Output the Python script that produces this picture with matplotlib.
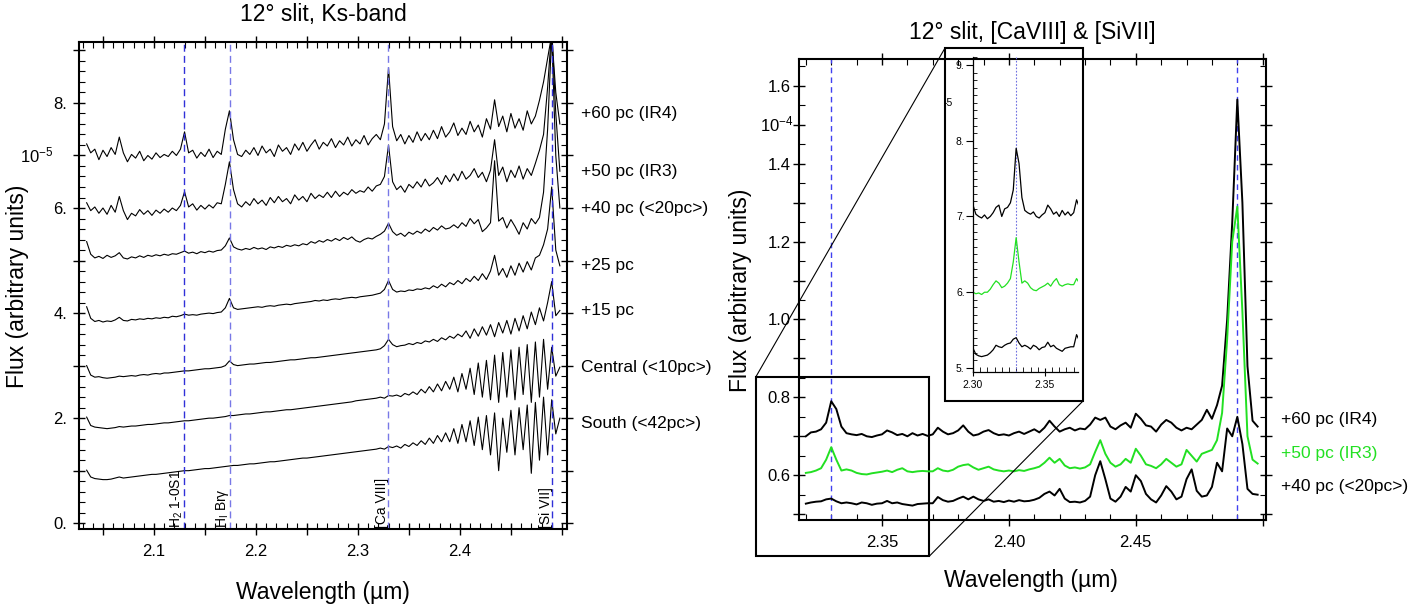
import numpy as np
import matplotlib
matplotlib.use("Agg")
import matplotlib.pyplot as plt
from matplotlib.patches import Rectangle, ConnectionPatch
from matplotlib.ticker import MultipleLocator, FuncFormatter

plt.rcParams['font.family'] = ['Liberation Sans', 'DejaVu Sans']
plt.rcParams['mathtext.fontset'] = 'custom'
plt.rcParams['mathtext.rm'] = 'Liberation Sans'
plt.rcParams['mathtext.it'] = 'Liberation Sans:italic'
plt.rcParams['mathtext.bf'] = 'Liberation Sans:bold'

# ---- left panel: 12 deg slit, Ks band (flux in 1e-5, offset spectra) ----
wave_ks = np.round(np.arange(2.034, 2.4981, 0.004), 3)

flux_ir4 = [7.22, 7.05, 7.12, 6.92, 7.10, 6.98, 7.15, 7.02, 7.35, 7.05,
            6.88, 7.02, 6.95, 7.08, 6.90, 7.00, 6.93, 7.05, 6.96, 7.02,
            6.98, 7.08, 7.00, 7.12, 7.45, 7.05, 7.10, 6.95, 7.06, 6.98,
            7.12, 6.96, 7.08, 7.02, 7.50, 7.85, 7.30, 7.02, 6.98, 7.10,
            7.02, 7.15, 7.00, 7.18, 7.05, 7.12, 6.98, 7.20, 7.08, 7.15,
            7.02, 7.22, 7.10, 7.25, 7.08, 7.20, 7.30, 7.12, 7.25, 7.18,
            7.32, 7.15, 7.28, 7.20, 7.35, 7.18, 7.30, 7.22, 7.38, 7.20,
            7.32, 7.40, 7.30, 7.60, 8.67, 7.55, 7.28, 7.40, 7.22, 7.38,
            7.25, 7.45, 7.28, 7.42, 7.30, 7.48, 7.32, 7.55, 7.35, 7.45,
            7.62, 7.38, 7.52, 7.40, 7.65, 7.45, 7.58, 7.35, 7.70, 7.50,
            8.06, 7.55, 7.75, 7.45, 7.80, 7.52, 7.70, 7.48, 7.85, 7.60,
            7.75, 8.05, 8.40, 8.85, 9.30, 8.20, 7.60]
flux_ir3 = [6.10, 5.95, 6.02, 5.90, 6.00, 5.88, 6.05, 5.92, 6.22, 5.95,
            5.78, 5.90, 5.85, 5.97, 5.88, 5.95, 5.86, 5.96, 5.90, 5.98,
            5.92, 6.00, 5.95, 6.05, 6.31, 6.02, 6.08, 5.96, 6.05, 5.98,
            6.06, 6.00, 6.10, 6.08, 6.45, 6.88, 6.35, 6.08, 6.02, 6.12,
            6.05, 6.18, 6.08, 6.15, 6.05, 6.20, 6.10, 6.22, 6.12, 6.18,
            6.08, 6.25, 6.15, 6.22, 6.12, 6.28, 6.18, 6.25, 6.20, 6.30,
            6.20, 6.32, 6.22, 6.30, 6.25, 6.35, 6.28, 6.33, 6.30, 6.40,
            6.32, 6.42, 6.45, 6.60, 7.20, 6.50, 6.35, 6.42, 6.30, 6.45,
            6.38, 6.50, 6.40, 6.55, 6.42, 6.48, 6.58, 6.45, 6.62, 6.50,
            6.65, 6.52, 6.70, 6.55, 6.62, 6.75, 6.58, 6.68, 6.50, 6.72,
            7.30, 6.62, 6.78, 6.50, 6.72, 6.58, 6.80, 6.55, 6.75, 6.62,
            6.85, 7.10, 7.40, 8.30, 9.40, 7.80, 6.70]
flux_40 = [5.36, 5.12, 5.05, 5.08, 5.04, 5.10, 5.06, 5.09, 5.15, 5.05,
           5.03, 5.07, 5.05, 5.09, 5.06, 5.10, 5.08, 5.11, 5.09, 5.12,
           5.10, 5.13, 5.12, 5.15, 5.18, 5.14, 5.16, 5.13, 5.17, 5.15,
           5.18, 5.16, 5.19, 5.20, 5.28, 5.43, 5.26, 5.22, 5.20, 5.23,
           5.21, 5.25, 5.22, 5.24, 5.21, 5.26, 5.24, 5.27, 5.25, 5.29,
           5.27, 5.30, 5.28, 5.32, 5.30, 5.36, 5.33, 5.38, 5.35, 5.40,
           5.37, 5.42, 5.38, 5.44, 5.40, 5.45, 5.38, 5.35, 5.40, 5.43,
           5.41, 5.46, 5.50, 5.56, 5.71, 5.55, 5.48, 5.52, 5.46, 5.54,
           5.50, 5.56, 5.52, 5.60, 5.55, 5.63, 5.58, 5.66, 5.60, 5.62,
           5.68, 5.62, 5.72, 5.65, 5.80, 5.70, 5.78, 5.55, 5.62, 5.72,
           6.90, 5.75, 5.82, 5.62, 5.78, 5.65, 5.50, 5.72, 5.60, 5.80,
           5.70, 5.82, 6.30, 7.50, 9.30, 7.00, 6.00]
flux_25 = [4.12, 3.90, 3.84, 3.86, 3.83, 3.85, 3.84, 3.87, 3.92, 3.86,
           3.85, 3.88, 3.87, 3.89, 3.88, 3.90, 3.89, 3.91, 3.90, 3.92,
           3.91, 3.94, 3.93, 3.95, 3.98, 3.96, 3.97, 3.96, 3.98, 3.99,
           4.00, 3.99, 4.01, 4.02, 4.10, 4.28, 4.10, 4.07, 4.08, 4.09,
           4.10, 4.11, 4.12, 4.11, 4.13, 4.14, 4.13, 4.15, 4.16, 4.17,
           4.16, 4.18, 4.19, 4.20, 4.21, 4.22, 4.24, 4.23, 4.25, 4.24,
           4.26, 4.27, 4.26, 4.28, 4.29, 4.30, 4.29, 4.31, 4.32, 4.33,
           4.34, 4.36, 4.38, 4.45, 4.62, 4.45, 4.40, 4.42, 4.41, 4.44,
           4.43, 4.46, 4.45, 4.48, 4.46, 4.52, 4.48, 4.55, 4.50, 4.58,
           4.54, 4.62, 4.56, 4.66, 4.60, 4.70, 4.62, 4.75, 4.64, 4.80,
           5.10, 4.72, 4.85, 4.68, 4.90, 4.72, 4.95, 4.78, 4.98, 4.82,
           5.05, 5.10, 5.30, 5.60, 6.40, 5.20, 4.90]
flux_15 = [3.00, 2.82, 2.78, 2.79, 2.77, 2.76, 2.77, 2.78, 2.80, 2.79,
           2.80, 2.81, 2.80, 2.82, 2.83, 2.82, 2.84, 2.85, 2.84, 2.86,
           2.86, 2.87, 2.88, 2.89, 2.90, 2.90, 2.91, 2.92, 2.93, 2.94,
           2.94, 2.95, 2.96, 2.97, 3.00, 3.09, 3.02, 3.00, 3.01, 3.02,
           3.03, 3.03, 3.04, 3.05, 3.06, 3.06, 3.07, 3.08, 3.09, 3.10,
           3.11, 3.11, 3.12, 3.13, 3.14, 3.15, 3.15, 3.16, 3.17, 3.18,
           3.19, 3.20, 3.21, 3.22, 3.23, 3.24, 3.25, 3.26, 3.27, 3.28,
           3.29, 3.30, 3.32, 3.38, 3.50, 3.40, 3.36, 3.38, 3.39, 3.42,
           3.40, 3.44, 3.42, 3.47, 3.45, 3.50, 3.46, 3.53, 3.49, 3.56,
           3.52, 3.60, 3.55, 3.66, 3.52, 3.70, 3.56, 3.74, 3.58, 3.78,
           3.55, 3.82, 3.62, 3.86, 3.60, 3.90, 3.66, 3.95, 3.70, 4.02,
           3.78, 4.10, 3.85, 4.20, 4.60, 3.95, 4.05]
flux_central = [2.02, 1.86, 1.83, 1.82, 1.81, 1.80, 1.81, 1.82, 1.84, 1.83,
                1.84, 1.85, 1.85, 1.86, 1.87, 1.88, 1.88, 1.89, 1.90, 1.91,
                1.91, 1.92, 1.93, 1.94, 1.95, 1.95, 1.96, 1.97, 1.98, 1.99,
                2.00, 2.00, 2.01, 2.02, 2.03, 2.05, 2.05, 2.06, 2.07, 2.08,
                2.08, 2.09, 2.10, 2.11, 2.12, 2.12, 2.13, 2.14, 2.15, 2.16,
                2.16, 2.17, 2.18, 2.19, 2.20, 2.21, 2.22, 2.23, 2.24, 2.25,
                2.26, 2.27, 2.28, 2.29, 2.30, 2.31, 2.33, 2.34, 2.35, 2.36,
                2.37, 2.38, 2.40, 2.38, 2.43, 2.42, 2.44, 2.41, 2.47, 2.44,
                2.50, 2.45, 2.55, 2.48, 2.60, 2.50, 2.65, 2.52, 2.70, 2.55,
                2.78, 2.50, 2.85, 2.55, 2.95, 2.45, 3.05, 2.40, 3.10, 2.35,
                3.20, 2.30, 3.25, 2.40, 3.30, 2.35, 3.35, 2.45, 3.40, 2.30,
                3.45, 2.40, 3.50, 2.55, 3.35, 2.80, 2.97]
flux_south = [1.01, 0.88, 0.85, 0.84, 0.83, 0.83, 0.84, 0.86, 0.88, 0.86,
              0.87, 0.88, 0.89, 0.90, 0.91, 0.92, 0.93, 0.93, 0.94, 0.95,
              0.96, 0.97, 0.98, 0.99, 1.00, 1.00, 1.01, 1.02, 1.03, 1.04,
              1.04, 1.05, 1.06, 1.07, 1.08, 1.09, 1.10, 1.10, 1.11, 1.12,
              1.13, 1.13, 1.14, 1.15, 1.16, 1.17, 1.17, 1.18, 1.19, 1.20,
              1.21, 1.22, 1.23, 1.24, 1.24, 1.25, 1.26, 1.27, 1.28, 1.29,
              1.30, 1.31, 1.32, 1.33, 1.34, 1.35, 1.36, 1.37, 1.38, 1.39,
              1.40, 1.41, 1.43, 1.41, 1.46, 1.44, 1.47, 1.43, 1.50, 1.46,
              1.53, 1.48, 1.57, 1.50, 1.62, 1.52, 1.67, 1.55, 1.72, 1.55,
              1.80, 1.52, 1.88, 1.55, 1.95, 1.48, 2.02, 1.40, 2.05, 1.30,
              2.10, 1.00, 2.00, 1.35, 2.15, 1.30, 2.20, 1.40, 2.25, 0.95,
              2.30, 1.20, 2.40, 1.30, 2.35, 1.70, 2.00]

ks_labels = ["+60 pc (IR4)", "+50 pc (IR3)", "+40 pc (<20pc>)", "+25 pc",
             "+15 pc", "Central (<10pc>)", "South (<42pc>)"]
ks_label_y = [7.8, 6.7, 6.0, 4.9, 4.05, 2.97, 1.9]

line_waves = [2.1297, 2.1745, 2.3295, 2.4900]
line_names = [r"H$_2$ 1-0S1", r"H$_{\rm I}$ Brγ", "[Ca VIII]", "[Si VII]"]
line_colors = ["#3030d8", "#7878e6", "#7878e6", "#3030d8"]

# ---- right panel: [CaVIII] & [SiVII] (flux in 1e-4) ----
wave_z = np.round(np.arange(2.300, 2.4981, 0.002), 3)

zflux_ir4 = [0.715, 0.703, 0.700, 0.698, 0.702, 0.697, 0.700, 0.705, 0.712, 0.715,
             0.700, 0.710, 0.712, 0.718, 0.735, 0.790, 0.770, 0.725, 0.708, 0.705,
             0.703, 0.706, 0.700, 0.698, 0.702, 0.705, 0.715, 0.710, 0.703, 0.706,
             0.700, 0.708, 0.702, 0.706, 0.701, 0.705, 0.722, 0.712, 0.705, 0.708,
             0.715, 0.728, 0.712, 0.702, 0.705, 0.712, 0.716, 0.708, 0.703, 0.705,
             0.702, 0.708, 0.712, 0.706, 0.712, 0.718, 0.710, 0.722, 0.740, 0.725,
             0.712, 0.718, 0.722, 0.715, 0.720, 0.718, 0.730, 0.748, 0.742, 0.748,
             0.725, 0.718, 0.728, 0.735, 0.722, 0.758, 0.745, 0.728, 0.725, 0.712,
             0.730, 0.742, 0.735, 0.722, 0.715, 0.722, 0.718, 0.730, 0.742, 0.768,
             0.745, 0.780, 0.830, 1.000, 1.250, 1.565, 1.300, 0.880, 0.740, 0.725]
zflux_ir3 = [0.600, 0.598, 0.599, 0.597, 0.600, 0.600, 0.604, 0.610, 0.615, 0.612,
             0.606, 0.608, 0.612, 0.618, 0.640, 0.672, 0.640, 0.612, 0.615, 0.612,
             0.606, 0.603, 0.602, 0.605, 0.607, 0.609, 0.612, 0.608, 0.614, 0.618,
             0.610, 0.608, 0.610, 0.611, 0.610, 0.610, 0.618, 0.612, 0.610, 0.614,
             0.622, 0.626, 0.628, 0.620, 0.614, 0.618, 0.622, 0.615, 0.612, 0.610,
             0.612, 0.610, 0.613, 0.611, 0.615, 0.618, 0.622, 0.632, 0.645, 0.632,
             0.642, 0.625, 0.618, 0.620, 0.617, 0.620, 0.628, 0.660, 0.690, 0.655,
             0.632, 0.622, 0.628, 0.642, 0.632, 0.668, 0.650, 0.628, 0.624, 0.618,
             0.628, 0.642, 0.632, 0.622, 0.628, 0.665, 0.650, 0.635, 0.655, 0.660,
             0.665, 0.690, 0.760, 0.950, 1.200, 1.290, 1.020, 0.700, 0.640, 0.630]
zflux_40 = [0.526, 0.518, 0.516, 0.515, 0.516, 0.517, 0.520, 0.524, 0.530, 0.528,
            0.527, 0.530, 0.532, 0.533, 0.538, 0.540, 0.533, 0.528, 0.530, 0.528,
            0.525, 0.530, 0.528, 0.524, 0.527, 0.528, 0.534, 0.528, 0.530, 0.526,
            0.524, 0.522, 0.526, 0.527, 0.528, 0.528, 0.544, 0.536, 0.532, 0.534,
            0.540, 0.545, 0.538, 0.545, 0.538, 0.534, 0.538, 0.532, 0.534, 0.531,
            0.535, 0.532, 0.536, 0.533, 0.534, 0.537, 0.542, 0.552, 0.558, 0.548,
            0.565, 0.540, 0.531, 0.532, 0.530, 0.534, 0.545, 0.600, 0.636, 0.590,
            0.540, 0.532, 0.545, 0.570, 0.558, 0.600, 0.585, 0.552, 0.538, 0.530,
            0.548, 0.572, 0.558, 0.538, 0.545, 0.590, 0.615, 0.560, 0.545, 0.548,
            0.570, 0.632, 0.610, 0.720, 0.700, 0.750, 0.680, 0.565, 0.552, 0.550]

z_labels = ["+60 pc (IR4)", "+50 pc (IR3)", "+40 pc (<20pc>)"]
z_label_y = [0.742, 0.657, 0.572]
z_colors = ["black", "#22e022", "black"]
z_lines = [2.330, 2.490]

W, H = 1416.0, 612.0

fig = plt.figure(figsize=(14.16, 6.12), dpi=100)


def add_axes_px(left, right, top, bottom):
    return fig.add_axes([left / W, 1 - bottom / H, (right - left) / W, (bottom - top) / H])


def fig_xy(x, y):
    return (x / W, 1 - y / H)


def idl_ticks(ax, xmaj, xmin, ymaj, ymin, xpad=6, ypad=4):
    ax.xaxis.set_major_locator(MultipleLocator(xmaj))
    ax.xaxis.set_minor_locator(MultipleLocator(xmin))
    ax.yaxis.set_major_locator(MultipleLocator(ymaj))
    ax.yaxis.set_minor_locator(MultipleLocator(ymin))
    ax.tick_params(which='major', direction='inout', length=9, width=1.0,
                   top=True, right=True, labelsize=12)
    ax.tick_params(which='minor', direction='in', length=4.5, width=0.8,
                   top=True, right=True)
    ax.tick_params(axis='x', pad=xpad)
    ax.tick_params(axis='y', pad=ypad)
    for s in ax.spines.values():
        s.set_linewidth(1.5)


# ---------------- left panel ----------------
ax1 = add_axes_px(79, 567, 42, 529)
for flux in [flux_ir4, flux_ir3, flux_40, flux_25, flux_15, flux_central, flux_south]:
    ax1.plot(wave_ks, flux, color='black', lw=0.8)
for w, col in zip(line_waves, line_colors):
    ax1.axvline(w, color=col, lw=1.0, ls=(0, (5, 3)))
for w, name in zip(line_waves, line_names):
    ax1.text(w + 0.0012, -0.09, name, rotation=90, ha='right', va='bottom', fontsize=10)
ax1.set_xlim(2.0265, 2.505)
ax1.set_ylim(-0.11, 9.16)
idl_ticks(ax1, 0.05, 0.01, 1, 0.2)
ax1.xaxis.set_major_formatter(FuncFormatter(
    lambda v, p: "%.1f" % v if abs(v * 10 - round(v * 10)) < 1e-6 and v < 2.46 else ""))
ax1.yaxis.set_major_formatter(FuncFormatter(
    lambda v, p: "%d." % round(v) if round(v) % 2 == 0 else ""))
ax1.text(-0.053, 7.0, r"10$^{-5}$", transform=ax1.get_yaxis_transform(),
         ha='right', va='center', fontsize=12)
for lab, y in zip(ks_labels, ks_label_y):
    ax1.text(1.029, y, lab, transform=ax1.get_yaxis_transform(),
             ha='left', va='center', fontsize=12.5)

fig.text(*fig_xy(323, 15), "12° slit, Ks-band", ha='center', va='center', fontsize=16.5)
fig.text(*fig_xy(323, 593), "Wavelength (µm)", ha='center', va='center', fontsize=16.5)
fig.text(*fig_xy(18, 286), "Flux (arbitrary units)", ha='center', va='center',
         fontsize=16.5, rotation=90)

# ---------------- right panel ----------------
ax2 = add_axes_px(799, 1266, 59, 520)
main = wave_z >= 2.3195
for w in z_lines:
    ax2.axvline(w, color="#4040f0", lw=1.0, ls=(0, (4, 3)))
for flux, col in zip([zflux_ir4, zflux_ir3, zflux_40], z_colors):
    ax2.plot(wave_z[main], np.array(flux)[main], color=col, lw=1.4)
ax2.set_xlim(2.3173, 2.5013)
ax2.set_ylim(0.485, 1.669)
idl_ticks(ax2, 0.05, 0.01, 0.1, 0.05, xpad=6, ypad=1.5)
ax2.xaxis.set_major_formatter(FuncFormatter(lambda v, p: "%.2f" % v if v < 2.46 else ""))
ax2.yaxis.set_major_formatter(FuncFormatter(
    lambda v, p: "%.1f" % v if round(v * 10) % 2 == 0 else ""))
ax2.text(-0.012, 1.5, r"10$^{-4}$", transform=ax2.get_yaxis_transform(),
         ha='right', va='center', fontsize=12)
for lab, y, col in zip(z_labels, z_label_y, z_colors):
    ax2.text(1.032, y, lab, transform=ax2.get_yaxis_transform(),
             ha='left', va='center', fontsize=12.5, color=col)

fig.text(*fig_xy(1032, 33), "12° slit, [CaVIII] & [SiVII]", ha='center', va='center',
         fontsize=16.5)
fig.text(*fig_xy(1031, 580), "Wavelength (µm)", ha='center', va='center', fontsize=16.5)
fig.text(*fig_xy(740, 290), "Flux (arbitrary units)", ha='center', va='center',
         fontsize=16.5, rotation=90)

# ---------------- inset (zoom on [CaVIII]) ----------------
axi = add_axes_px(973, 1078, 57, 372)
axi.patch.set_alpha(0)
axi.axvline(2.330, color='#6f6fe0', lw=0.8, ls=(0, (1.5, 1.5)))
for flux, col in zip([zflux_ir4, zflux_ir3, zflux_40], z_colors):
    axi.plot(wave_z, np.array(flux) * 10, color=col, lw=0.9)
axi.set_xlim(2.300, 2.373)
axi.set_ylim(4.947, 9.105)
axi.spines['top'].set_visible(False)
axi.spines['right'].set_visible(False)
axi.xaxis.set_major_locator(MultipleLocator(0.05))
axi.xaxis.set_minor_locator(MultipleLocator(0.005))
axi.yaxis.set_major_locator(MultipleLocator(1))
axi.yaxis.set_minor_locator(MultipleLocator(0.1))
axi.tick_params(axis='y', which='major', direction='out', length=5, width=0.8,
                labelsize=7.5, pad=1)
axi.tick_params(axis='y', which='minor', direction='in', length=3, width=0.6)
axi.tick_params(axis='x', which='major', direction='inout', length=6, width=0.8,
                labelsize=7.5, pad=3)
axi.tick_params(axis='x', which='minor', direction='in', length=3.5, width=0.6)
axi.xaxis.set_major_formatter(FuncFormatter(lambda v, p: "%.2f" % v))
axi.yaxis.set_major_formatter(FuncFormatter(lambda v, p: "%d." % round(v)))
for s in ['left', 'bottom']:
    axi.spines[s].set_linewidth(0.9)
axi.text(-0.19, 8.5, "-5", transform=axi.get_yaxis_transform(),
         ha='right', va='center', fontsize=7.5)

# outer box of the inset and the zoom rectangle with its guide lines
box_l, box_t, box_r, box_b = 945, 48, 1083, 401
fig.add_artist(Rectangle(fig_xy(box_l, box_b), (box_r - box_l) / W, (box_b - box_t) / H,
                         transform=fig.transFigure, fill=False, lw=1.5, color='black'))
zx0, zx1 = 2.3003, 2.3687
zy0, zy1 = 0.3925, 0.8526
ax2.add_patch(Rectangle((zx0, zy0), zx1 - zx0, zy1 - zy0, fill=False, lw=1.5,
                        color='black', clip_on=False))
for xy_a, xy_b in [((zx0, zy1), fig_xy(box_l, box_t)), ((zx1, zy0), fig_xy(box_r, box_b))]:
    fig.add_artist(ConnectionPatch(xyA=xy_a, coordsA=ax2.transData, xyB=xy_b,
                                   coordsB=fig.transFigure, color='black', lw=0.8))

fig.savefig("out.png", dpi=100)
